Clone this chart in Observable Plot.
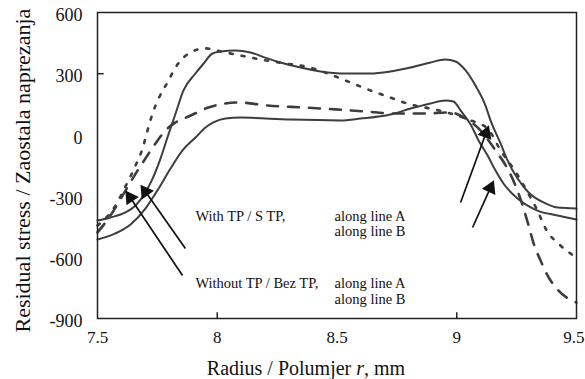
<!DOCTYPE html>
<html>
<head>
<meta charset="utf-8">
<script src="https://cdn.jsdelivr.net/npm/d3@7"></script>
<script src="https://cdn.jsdelivr.net/npm/@observablehq/plot@0.6"></script>
<style>
  html, body { margin: 0; padding: 0; background: #fff; }
  #chart { width: 585px; height: 379px; }
</style>
</head>
<body>
<div id="chart"></div>
<script>
// ---- Data ----
const xTicks = [7.5, 8, 8.5, 9];
const xLastTick = [9.5];
const yTicks = [600, 300, 0, -300, -600, -900];

// Solid curve with the high plateau (~400 / ~300)
const radiusS1 = [7.5, 7.554, 7.617, 7.659, 7.7, 7.73, 7.763, 7.792, 7.826, 7.859, 7.909, 7.943, 7.98, 8.014, 8.076, 8.139, 8.2, 8.264, 8.348, 8.431, 8.535, 8.64, 8.723, 8.807, 8.89, 8.953, 8.995, 9.037, 9.078, 9.12, 9.141, 9.183, 9.212, 9.254, 9.3, 9.362, 9.421, 9.5];
const stressS1 = [-420, -405, -380, -346, -282, -214, -116, -13, 105, 218, 301, 350, 399, 409, 414, 404, 379, 355, 330, 311, 301, 301, 311, 330, 355, 370, 360, 316, 242, 144, 71, -42, -125, -214, -282, -331, -356, -361];

// Solid curve with the low plateau (~80 / ~170)
const radiusS2 = [7.5, 7.575, 7.638, 7.7, 7.755, 7.805, 7.855, 7.909, 7.951, 7.984, 8.034, 8.097, 8.306, 8.515, 8.598, 8.723, 8.807, 8.89, 8.953, 8.986, 9.016, 9.058, 9.091, 9.129, 9.162, 9.195, 9.254, 9.337, 9.421, 9.5];
const stressS2 = [-513, -483, -439, -361, -263, -165, -76, -13, 36, 61, 80, 85, 75, 71, 80, 100, 129, 154, 169, 164, 120, 51, -27, -101, -175, -238, -312, -371, -395, -415];

// Dashed curve with the high hump
const radiusD1 = [7.5, 7.533, 7.567, 7.625, 7.659, 7.688, 7.709, 7.73, 7.755, 7.792, 7.834, 7.888, 7.951, 8.014, 8.097, 8.18, 8.285, 8.389, 8.473, 8.556, 8.64, 8.723, 8.807, 8.89, 8.974, 9.058, 9.129, 9.183, 9.25, 9.296, 9.337, 9.371, 9.433, 9.5];
const stressD1 = [-444, -410, -361, -233, -150, -67, 22, 105, 178, 257, 345, 404, 424, 409, 389, 370, 350, 330, 296, 257, 218, 183, 149, 129, 105, 71, 31, -76, -189, -282, -371, -459, -542, -601];

// Dashed curve with the low plateau (~140)
const radiusD2 = [7.5, 7.554, 7.617, 7.667, 7.7, 7.742, 7.784, 7.826, 7.88, 7.963, 8.089, 8.21, 8.368, 8.494, 8.619, 8.736, 8.861, 8.974, 9.037, 9.099, 9.162, 9.212, 9.245, 9.275, 9.3, 9.321, 9.35, 9.379, 9.425, 9.5];
const stressD2 = [-478, -395, -273, -175, -116, -42, 22, 61, 90, 134, 159, 144, 134, 125, 115, 105, 105, 110, 80, 22, -76, -165, -248, -346, -444, -532, -616, -689, -763, -822];

// Annotation arrows (data coordinates: tail -> head)
const arrowTailX = [7.855, 7.867, 9.016, 9.066];
const arrowTailY = [-689, -557, -331, -454];
const arrowHeadX = [7.625, 7.688, 9.129, 9.149];
const arrowHeadY = [-287, -258, 31, -238];

// Legend-like annotation texts
const noteText = ["With TP / S TP,", "along line A", "along line B", "Without TP / Bez TP,", "along line A", "along line B"];
const noteX = [7.909, 8.49, 8.49, 7.909, 8.49, 8.49];
const noteY = [-408, -408, -483, -738, -738, -813];

const xTitle = "Radius / Polumjer r, mm";
const yTitle = "Residual stress / Zaostala naprezanja";

// ---- Build tables ----
const toRows = (xs, ys) => xs.map((x, i) => ({x, y: ys[i]}));
const s1 = toRows(radiusS1, stressS1);
const s2 = toRows(radiusS2, stressS2);
const d1 = toRows(radiusD1, stressD1);
const d2 = toRows(radiusD2, stressD2);
const arrows = arrowTailX.map((x, i) => ({x1: x, y1: arrowTailY[i], x2: arrowHeadX[i], y2: arrowHeadY[i]}));
const notes = noteText.map((t, i) => ({t, x: noteX[i], y: noteY[i]}));

const serif = "'Liberation Serif', 'Times New Roman', Times, serif";
const lineColor = "#3d3d3d";

const base = {
  width: 585,
  height: 379,
  marginLeft: 97,
  marginRight: 9,
  marginTop: 12,
  marginBottom: 61,
  style: {fontFamily: serif, background: "#fff", color: "#111", overflow: "visible"},
  x: {domain: [7.5, 9.5]},
  y: {domain: [-900, 600]}
};

// first pass: get the scales to orient the filled arrow heads
const probe = Plot.plot({...base, marks: [Plot.frame()]});
const sx = probe.scale("x"), sy = probe.scale("y");
const heads = arrows.map(a => {
  const px1 = sx.apply(a.x1), py1 = sy.apply(a.y1);
  const px2 = sx.apply(a.x2), py2 = sy.apply(a.y2);
  const dx = px2 - px1, dy = py2 - py1, len = Math.hypot(dx, dy);
  const ux = dx / len, uy = dy / len;
  const cx = px2 - ux * 5, cy = py2 - uy * 5;
  return {x: sx.invert(cx), y: sy.invert(cy), angle: Math.atan2(ux, -uy) * 180 / Math.PI};
});

const chart = Plot.plot({
  ...base,
  marks: [
    Plot.axisX({ticks: xTicks, tickSize: 0, tickPadding: 12, fontSize: 17, label: null, fontFamily: serif, tickFormat: d => String(d)}),
    Plot.axisX({ticks: xLastTick, tickSize: 0, tickPadding: 12, fontSize: 17, label: null, fontFamily: serif, textAnchor: "end", dx: 8, tickFormat: d => String(d)}),
    Plot.axisY({ticks: yTicks, tickSize: 0, tickPadding: 15, fontSize: 18, label: null, dy: 3, fontFamily: serif, tickFormat: d => String(d)}),
    Plot.ruleX([8, 9], {y1: -900, y2: -872, stroke: "#222", strokeWidth: 1.5}),
    Plot.ruleY([300], {x1: 7.5, x2: 7.528, stroke: "#222", strokeWidth: 1.5}),
    Plot.line(s1, {x: "x", y: "y", stroke: lineColor, strokeWidth: 2, curve: "monotone-x"}),
    Plot.line(s2, {x: "x", y: "y", stroke: lineColor, strokeWidth: 2, curve: "monotone-x"}),
    Plot.line(d1, {x: "x", y: "y", stroke: lineColor, strokeWidth: 2.6, strokeDasharray: "3,9", curve: "monotone-x"}),
    Plot.line(d2, {x: "x", y: "y", stroke: lineColor, strokeWidth: 2.6, strokeDasharray: "11,10", curve: "monotone-x"}),
    Plot.link(arrows, {x1: "x1", y1: "y1", x2: "x2", y2: "y2", stroke: "#111", strokeWidth: 1.7}),
    Plot.dot(heads, {x: "x", y: "y", symbol: "triangle", rotate: "angle", r: 5.5, fill: "#111", stroke: "none"}),
    Plot.text(notes, {x: "x", y: "y", text: "t", textAnchor: "start", lineAnchor: "bottom", dy: 3, fontSize: 14.5, fill: "#111", fontFamily: serif}),
    Plot.text([xTitle], {frameAnchor: "bottom", dx: -31, dy: 50, fontSize: 20, fill: "#111", lineAnchor: "middle", fontFamily: serif}),
    Plot.text([yTitle], {frameAnchor: "bottom-left", dx: -75, dy: 14, rotate: -90, textAnchor: "start", lineAnchor: "middle", fontSize: 22, fill: "#111", fontFamily: serif}),
    Plot.frame({stroke: "#222", strokeWidth: 1.5})
  ]
});

document.getElementById("chart").appendChild(chart);

// italic "r" in the x-axis title
chart.querySelectorAll("text").forEach(el => {
  if (el.textContent === xTitle) {
    el.textContent = "";
    const ns = "http://www.w3.org/2000/svg";
    const parts = [["Radius / Polumjer ", "normal"], ["r", "italic"], [", mm", "normal"]];
    for (const [s, st] of parts) {
      const ts = document.createElementNS(ns, "tspan");
      ts.textContent = s;
      ts.setAttribute("font-style", st);
      el.appendChild(ts);
    }
  }
});
</script>
</body>
</html>
